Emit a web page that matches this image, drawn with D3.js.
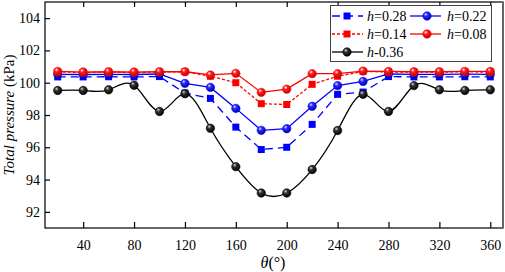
<!DOCTYPE html>
<html>
<head>
<meta charset="utf-8">
<script src="https://cdn.jsdelivr.net/npm/d3@7"></script>
<style>
  body { margin: 0; background: #fff; }
  svg { font-family: "Liberation Serif", "Times New Roman", serif; }
</style>
</head>
<body>
<svg width="505" height="272"></svg>
<script>
var theta = [20, 40, 60, 80, 100, 120, 140, 160, 180, 200, 220, 240, 260, 280, 300, 320, 340, 360];
var h028 = [100.36, 100.36, 100.37, 100.36, 100.38, 99.36, 99.03, 97.25, 95.86, 96.0, 97.42, 99.28, 99.42, 100.38, 100.36, 100.36, 100.37, 100.36];
var h022 = [100.52, 100.51, 100.52, 100.51, 100.54, 99.96, 99.71, 98.41, 97.05, 97.15, 98.54, 99.82, 100.08, 100.54, 100.52, 100.52, 100.53, 100.52];
var h014 = [100.66, 100.64, 100.66, 100.64, 100.66, 100.68, 100.4, 100.0, 98.7, 98.65, 99.9, 100.4, 100.7, 100.66, 100.66, 100.66, 100.67, 100.66];
var h008 = [100.7, 100.66, 100.68, 100.66, 100.68, 100.68, 100.48, 100.58, 99.4, 99.6, 100.56, 100.56, 100.72, 100.7, 100.68, 100.68, 100.7, 100.7];
var h036 = [99.52, 99.52, 99.56, 99.84, 98.22, 99.32, 97.18, 94.8, 93.17, 93.17, 94.62, 97.04, 99.28, 98.22, 99.82, 99.56, 99.52, 99.56];

var xTicks = [40, 80, 120, 160, 200, 240, 280, 320, 360];
var yTicks = [92, 94, 96, 98, 100, 102, 104];

var svg = d3.select("svg"),
  margin = { top: 2, right: 2, bottom: 44, left: 45 },
  width = +svg.attr("width") - margin.left - margin.right,
  height = +svg.attr("height") - margin.top - margin.bottom,
  g = svg.append("g").attr("transform", "translate(" + margin.left + "," + margin.top + ")");

var x = d3.scaleLinear().domain([10, 370]).range([0, width]);
var y = d3.scaleLinear().domain([91, 105]).range([height, 0]);

// gradients for the shaded ball markers
var defs = svg.append("defs");
function ball(id, light, mid, dark) {
  var gr = defs.append("radialGradient").attr("id", id)
    .attr("cx", "40%").attr("cy", "35%").attr("r", "65%").attr("fx", "35%").attr("fy", "30%");
  gr.append("stop").attr("offset", "0%").attr("stop-color", light);
  gr.append("stop").attr("offset", "35%").attr("stop-color", mid);
  gr.append("stop").attr("offset", "100%").attr("stop-color", dark);
}
ball("gBlack", "#d8d8d8", "#333", "#000");
ball("gBlue", "#e0e0ff", "#2a2aff", "#0000a0");
ball("gRed", "#ffffff", "#ff2020", "#c00000");

var series = [
  { name: "0.28", v: h028, color: "#0000ff", dash: "8,5", marker: "square", curve: d3.curveLinear },
  { name: "0.22", v: h022, color: "#0000ff", dash: null, marker: "ball", fill: "url(#gBlue)", curve: d3.curveLinear },
  { name: "0.14", v: h014, color: "#ff0000", dash: "3,2", marker: "square", curve: d3.curveLinear },
  { name: "0.08", v: h008, color: "#ff0000", dash: null, marker: "ball", fill: "url(#gRed)", curve: d3.curveLinear },
  { name: "0.36", v: h036, color: "#000000", dash: null, marker: "ball", fill: "url(#gBlack)", curve: d3.curveNatural, sep: "-" }
];

// frame
g.append("rect").attr("width", width).attr("height", height)
  .attr("fill", "none").attr("stroke", "#000").attr("stroke-width", 1.2);
g.append("line").attr("x1", width).attr("x2", width).attr("y1", 0).attr("y2", height)
  .attr("stroke", "#666").attr("stroke-width", 2);

// axes with inward ticks
var xAxis = g.append("g").attr("transform", "translate(0," + height + ")")
  .call(d3.axisBottom(x).tickValues(xTicks).tickSizeInner(-6).tickSizeOuter(0).tickPadding(12));
var xTop = g.append("g")
  .call(d3.axisTop(x).tickValues(xTicks).tickSizeInner(-5).tickSizeOuter(0).tickFormat(""));
var yAxis = g.append("g")
  .call(d3.axisLeft(y).tickValues(yTicks).tickSizeInner(-5).tickSizeOuter(0).tickPadding(5));

[xAxis, xTop, yAxis].forEach(function(a) {
  a.select(".domain").remove();
  a.selectAll("line").attr("stroke", "#000").attr("stroke-width", 1.2);
  a.selectAll("text").attr("font-family", "Liberation Serif").attr("font-size", "14px").attr("fill", "#000");
});

// lines
var line = function(s) {
  return d3.line()
    .x(function(d, i) { return x(theta[i]); })
    .y(function(d) { return y(d); })
    .curve(s.curve);
};

series.forEach(function(s) {
  g.append("path")
    .datum(s.v)
    .attr("d", line(s))
    .attr("fill", "none")
    .attr("stroke", s.color)
    .attr("stroke-width", 1.3)
    .attr("stroke-dasharray", s.dash);
});

function drawMarker(sel, s) {
  if (s.marker === "square") {
    sel.append("rect").attr("x", -3.5).attr("y", -3.5).attr("width", 7).attr("height", 7)
      .attr("fill", s.color);
  } else {
    sel.append("circle").attr("r", 4.2).attr("fill", s.fill)
      .attr("stroke", s.color === "#000000" ? "#000" : s.color).attr("stroke-width", 0.6);
  }
}

series.forEach(function(s) {
  g.selectAll(null)
    .data(s.v)
    .enter()
    .append("g")
    .attr("transform", function(d, i) { return "translate(" + x(theta[i]) + "," + y(d) + ")"; })
    .each(function() { drawMarker(d3.select(this), s); });
});

// axis titles
svg.append("text")
  .attr("transform", "translate(14," + (margin.top + height / 2) + ") rotate(-90)")
  .attr("text-anchor", "middle")
  .attr("font-size", "15px")
  .call(function(t) {
    t.append("tspan").attr("font-style", "italic").text("Total pressure");
    t.append("tspan").text(" (kPa)");
  });

svg.append("text")
  .attr("x", margin.left + x(190) - 1)
  .attr("y", 268)
  .attr("text-anchor", "middle")
  .attr("font-size", "16px")
  .call(function(t) {
    t.append("tspan").attr("font-style", "italic").text("θ");
    t.append("tspan").text("(°)");
  });

// legend
var leg = svg.append("g");
leg.append("rect").attr("x", 330.5).attr("y", 5.5).attr("width", 161).attr("height", 56)
  .attr("fill", "#fff").attr("stroke", "#444").attr("stroke-width", 1);

var legPos = [
  { lx: 332, mx: 347, tx: 367, ty: 16 },
  { lx: 410, mx: 427, tx: 447, ty: 16 },
  { lx: 332, mx: 347, tx: 367, ty: 34 },
  { lx: 410, mx: 427, tx: 447, ty: 34 },
  { lx: 332, mx: 347, tx: 367, ty: 52 }
];

series.forEach(function(s, i) {
  var p = legPos[i];
  var it = leg.append("g");
  it.append("line").attr("x1", p.lx).attr("x2", p.lx + 31).attr("y1", p.ty).attr("y2", p.ty)
    .attr("stroke", s.color).attr("stroke-width", 1.3).attr("stroke-dasharray", s.dash);
  drawMarker(it.append("g").attr("transform", "translate(" + p.mx + "," + p.ty + ")"), s);
  it.append("text").attr("x", p.tx).attr("y", p.ty + 5).attr("font-size", "14px")
    .call(function(t) {
      t.append("tspan").attr("font-style", "italic").text("h");
      t.append("tspan").text((s.sep || "=") + s.name);
    });
});
</script>
</body>
</html>
